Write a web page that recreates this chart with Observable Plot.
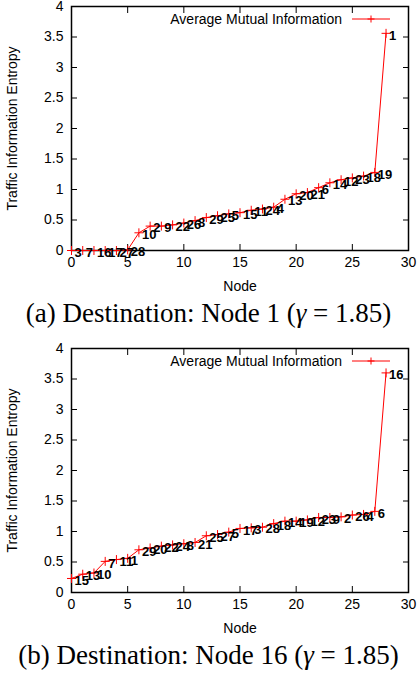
<!DOCTYPE html>
<html><head><meta charset="utf-8">
<script src="https://cdn.jsdelivr.net/npm/d3@7"></script>
<script src="https://cdn.jsdelivr.net/npm/@observablehq/plot@0.6"></script>
<style>
body{margin:0;background:#fff;width:417px;}
.cap{font-family:"Liberation Serif","Times New Roman",serif;font-size:27px;text-align:center;height:46.5px;line-height:27px;padding-top:5px;box-sizing:border-box;white-space:nowrap;color:#000;}
svg{display:block}
</style></head><body>
<div id="a"></div><div class="cap" id="capA"></div>
<div id="b"></div><div class="cap" id="capB"></div>
<script>
const seriesName = "Average Mutual Information";
const xTicks = [0, 5, 10, 15, 20, 25, 30];
const yTicks = [0, 0.5, 1, 1.5, 2, 2.5, 3, 3.5, 4];
const xLabel = "Node";
const yLabel = "Traffic Information Entropy";

const nodesA = [3,7,16,17,27,28,10,2,9,22,26,8,29,25,5,15,11,24,4,13,20,21,6,14,12,23,18,19,1];
const entropyA = [0,0,0,0,0,0.01,0.29,0.40,0.40,0.42,0.45,0.49,0.54,0.57,0.60,0.62,0.66,0.68,0.71,0.84,0.93,0.95,1.03,1.11,1.16,1.19,1.22,1.28,3.56];
const captionA = "(a) Destination: Node 1 (<i>γ</i> = 1.85)";

const nodesB = [15,13,10,7,11,1,29,20,22,24,8,21,25,27,5,17,3,28,18,14,19,12,23,9,2,26,4,6,16];
const entropyB = [0.23,0.30,0.32,0.51,0.54,0.56,0.70,0.73,0.76,0.78,0.80,0.82,0.93,0.95,0.99,1.05,1.06,1.07,1.13,1.17,1.17,1.19,1.23,1.23,1.24,1.27,1.28,1.33,3.60];
const captionB = "(b) Destination: Node 16 (<i>γ</i> = 1.85)";

function panel(nodes, values) {
  const data = values.map((v, i) => ({rank: i, value: v, node: nodes[i]}));
  const svg = Plot.plot({
    width: 417, height: 295,
    marginTop: 6, marginBottom: 45, marginLeft: 71, marginRight: 9,
    style: {fontFamily: "'Liberation Sans', Arial, sans-serif", fontSize: "14px", background: "#fff", color: "#000", overflow: "visible"},
    x: {domain: [0, 30]},
    y: {domain: [0, 4]},
    marks: [
      Plot.axisX(xTicks, {anchor: "bottom", tickSize: 0, tickPadding: 7, fontSize: 14, label: xLabel, labelAnchor: "center", labelArrow: "none", labelOffset: 40}),
      Plot.axisX(xTicks, {anchor: "bottom", tickSize: -6, tickFormat: () => "", label: null}),
      Plot.axisX(xTicks, {anchor: "top", tickSize: -6, tickFormat: () => "", label: null}),
      Plot.axisY(yTicks, {anchor: "left", tickSize: 0, tickPadding: 8, fontSize: 14, tickFormat: d => String(d), label: yLabel, labelAnchor: "center", labelArrow: "none", labelOffset: 64}),
      Plot.axisY(yTicks, {anchor: "left", tickSize: -6, tickFormat: () => "", label: null}),
      Plot.axisY(yTicks, {anchor: "right", tickSize: -6, tickFormat: () => "", label: null}),
      Plot.frame({stroke: "#000", strokeWidth: 1.5}),
      Plot.line(data, {x: "rank", y: "value", stroke: "red", strokeWidth: 1}),
      Plot.dot(data, {x: "rank", y: "value", symbol: "plus", stroke: "red", r: 3, strokeWidth: 1}),
      Plot.text(data, {x: "rank", y: "value", text: "node", textAnchor: "start", dx: 3, dy: 2, fontWeight: "bold", fontSize: 13, fill: "#000"})
    ]
  });
  const g = d3.select(svg).append("g");
  g.append("text").attr("x", 342).attr("y", 19).attr("dy", "0.35em").attr("text-anchor", "end")
    .attr("font-size", 14).attr("fill", "#000").text(seriesName);
  g.append("line").attr("x1", 352).attr("x2", 390).attr("y1", 19).attr("y2", 19).attr("stroke", "red");
  g.append("path").attr("d", "M367.5,19H374.5M371,15.5V22.5").attr("stroke", "red");
  return svg;
}

document.getElementById("a").appendChild(panel(nodesA, entropyA));
document.getElementById("capA").innerHTML = captionA;
document.getElementById("b").appendChild(panel(nodesB, entropyB));
document.getElementById("capB").innerHTML = captionB;
</script>
</body></html>
